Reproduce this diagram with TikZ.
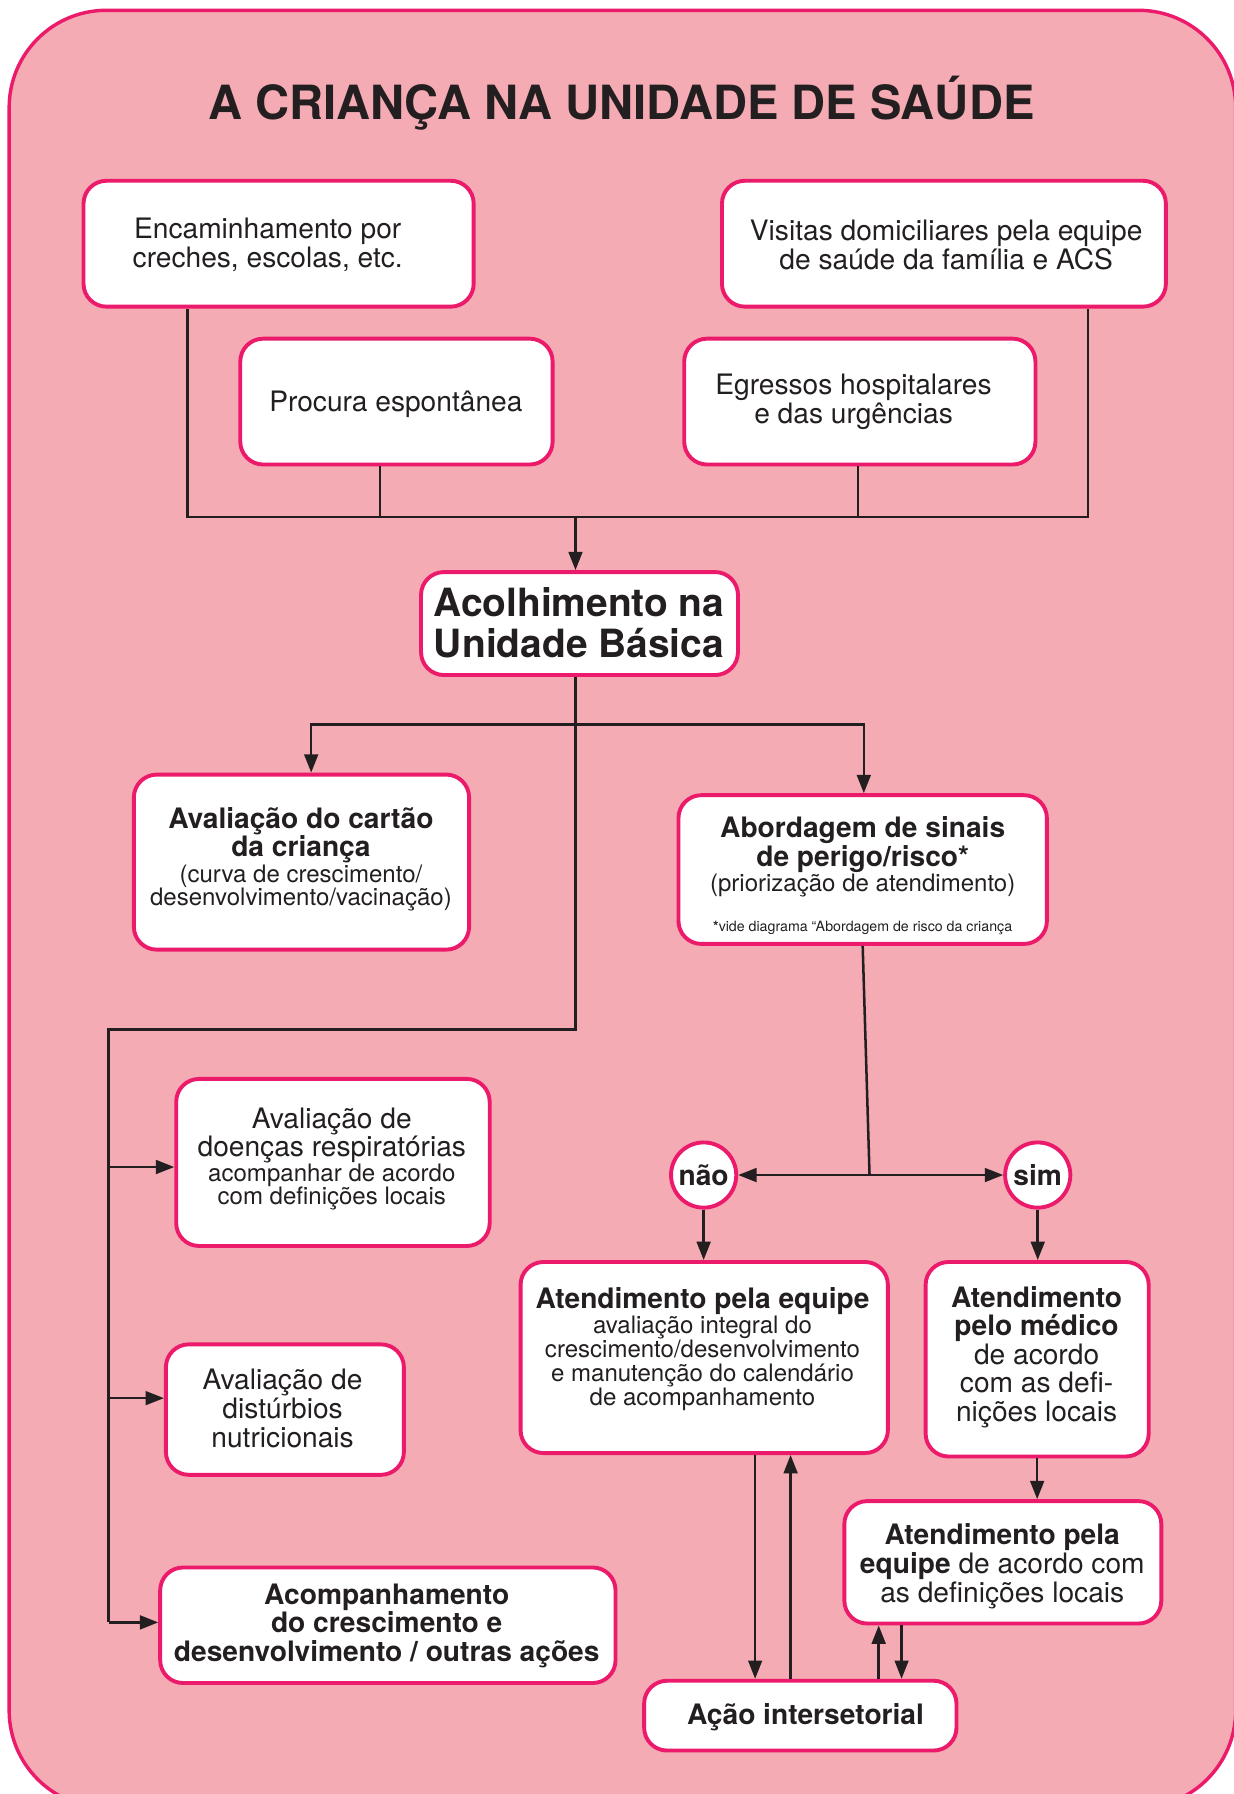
\documentclass[tikz,border=0pt]{standalone}
\usepackage{fontspec}
\setmainfont{TeX Gyre Heros}
\usetikzlibrary{arrows.meta,fit}
\definecolor{bgpink}{HTML}{F5ABB3}
\definecolor{rim}{HTML}{EC1A6A}
\definecolor{ink}{HTML}{231F20}
\newcommand\fsTitle{\fontsize{20.6}{22}\selectfont}
\newcommand\fsBig{\fontsize{17}{18}\selectfont}
\newcommand\fsNormal{\fontsize{12.3}{12.5}\selectfont}
\newcommand\fsSmall{\fontsize{10.5}{10.5}\selectfont}
\newcommand\fsTiny{\fontsize{6.2}{6.5}\selectfont}

\begin{document}
\begin{tikzpicture}[x=0.5pt, y=-0.5pt, ink, >={Triangle[length=8pt,width=6pt]},
  box/.style={draw=rim, fill=white, line width=1.7pt, rounded corners=10pt, inner sep=0pt},
  dot/.style={draw=rim, fill=white, line width=1.7pt, circle, minimum size=28.5pt, inner sep=0pt, font=\fsNormal\bfseries},
  txt/.style={align=center, inner sep=0pt, font=\fsNormal},
  link/.style={draw=ink, line width=1.1pt}]
\useasboundingbox (0,0) rectangle (1078,1568);
%Background
\filldraw[fill=bgpink, draw=rim, line width=1.5pt, rounded corners=42.5pt] (8,9) rectangle (1080,1580);
\node[font=\fsTitle\bfseries] (title) at (543,90) {A CRIANÇA NA UNIDADE DE SAÚDE};
%Entradas
\node[box, fit={(73,158) (414,268)}] (enc) {};
\node[box, fit={(631,158) (1019,268)}] (vis) {};
\node[box, fit={(210,296) (483,406)}] (proc) {};
\node[box, fit={(598,296) (905,406)}] (egr) {};
\node[txt] (enctxt) at (234,214) {Encaminhamento por\\creches, escolas, etc.};
\node[txt] (vistxt) at (827,214) {Visitas domiciliares pela equipe\\de saúde da família e ACS};
\node[txt] (proctxt) at (346,353) {Procura espontânea};
\node[txt] (egrtxt) at (746,351) {Egressos hospitalares\\e das urgências};
%Acolhimento
\node[box, fit={(368,500) (645,590)}] (acol) {};
\node[txt, font=\fsBig\bfseries] (acoltxt) at (506,544) {Acolhimento na\\Unidade Básica};
%Avaliacoes
\node[box, fit={(117,677) (410,830)}] (cart) {};
\node[txt] (carttxt) at (263,751) {\textbf{Avaliação do cartão}\\\textbf{da criança}\\[-1pt]{\fsSmall (curva de crescimento/}\\[-2.5pt]{\fsSmall desenvolvimento/vacinação)}};
\node[box, fit={(593,695) (915,825)}] (abord) {};
\node[txt] (abordtxt) at (754,749) {\textbf{Abordagem de sinais}\\\textbf{de perigo/risco*}\\[-1.5pt]{\fsSmall (priorização de atendimento)}};
\node[txt, font=\fsTiny] (abordnote) at (754,811) {\textbf{*}vide diagrama “Abordagem de risco da criança};
\node[box, fit={(154,943) (428,1089)}] (resp) {};
\node[txt] (resptxt) at (290,1013) {Avaliação de\\doenças respiratórias\\[-1.5pt]{\fsSmall acompanhar de acordo}\\[-2.5pt]{\fsSmall com definições locais}};
\node[box, fit={(145,1175) (353,1289)}] (dist) {};
\node[txt] (disttxt) at (247,1231) {Avaliação de\\distúrbios\\nutricionais};
\node[box, fit={(140,1370) (538,1471)}] (acomp) {};
\node[txt, font=\fsNormal\bfseries] (acomptxt) at (338,1421) {Acompanhamento\\do crescimento e\\desenvolvimento / outras ações};
%Risco
\node[dot] (nao) at (615,1027) {não};
\node[dot] (sim) at (907,1027) {sim};
\node[box, fit={(455,1103) (776,1270)}] (eq) {};
\node[txt] (eqtxt) at (614,1179) {\textbf{Atendimento pela equipe}\\[-1.5pt]{\fsSmall avaliação integral do}\\[-2pt]{\fsSmall crescimento/desenvolvimento}\\[-2pt]{\fsSmall e manutenção do calendário}\\[-2pt]{\fsSmall de acompanhamento}};
\node[box, fit={(809,1103) (1004,1273)}] (med) {};
\node[txt] (medtxt) at (906,1186) {\textbf{Atendimento}\\\textbf{pelo médico}\\de acordo\\com as defi-\\nições locais};
\node[box, fit={(738,1312) (1015,1419)}] (eq2) {};
\node[txt] (eq2txt) at (876,1369) {\textbf{Atendimento pela}\\\textbf{equipe} de acordo com\\as definições locais};
\node[box, fit={(563,1469) (836,1530)}] (acao) {};
\node[txt, font=\fsNormal\bfseries] (acaotxt) at (704,1501) {Ação intersetorial};
%Ligacoes
\coordinate (bl) at (164,452);
\coordinate (bp) at (332,452);
\coordinate (bm) at (503,452);
\coordinate (be) at (750,452);
\coordinate (br) at (951,452);
\draw[link] (enc.south -| bl) -- (bl) -- (br) -- (vis.south -| br);
\draw[link] (proc.south -| bp) -- (bp);
\draw[link] (egr.south -| be) -- (be);
\draw[link,->] (bm) -- (bm |- acol.north);
\coordinate (sp) at (503,633);
\coordinate (sl) at (272,633);
\coordinate (sr) at (755,633);
\coordinate (bend) at (503,900);
\coordinate (rail) at (95,900);
\coordinate (r1) at (95,1020);
\coordinate (r2) at (95,1222);
\coordinate (r3) at (95,1418);
\draw[link,<->] (sl |- cart.north) -- (sl) -- (sr) -- (sr |- abord.north);
\draw[link] (acol.south -| sp) -- (bend) -- (rail) -- (r3);
\draw[link,->] (r1) -- (r1 -| resp.west);
\draw[link,->] (r2) -- (r2 -| dist.west);
\draw[link,->] (r3) -- (r3 -| acomp.west);
\coordinate (fork) at (760,1027);
\draw[link] (abord.south) -- (fork);
\draw[link,<->] (nao.east) -- (sim.west);
\draw[link,->] (nao.south) -- (nao.south |- eq.north);
\draw[link,->] (sim.south) -- (sim.south |- med.north);
\draw[link,->] (med.south) -- (med.south |- eq2.north);
\coordinate (c1) at (660,0);
\coordinate (c2) at (691,0);
\coordinate (c3) at (768,0);
\coordinate (c4) at (788,0);
\draw[link,->] (eq.south -| c1) -- (acao.north -| c1);
\draw[link,->] (acao.north -| c2) -- (eq.south -| c2);
\draw[link,->] (acao.north -| c3) -- (eq2.south -| c3);
\draw[link,->] (eq2.south -| c4) -- (acao.north -| c4);
\end{tikzpicture}
\end{document}
